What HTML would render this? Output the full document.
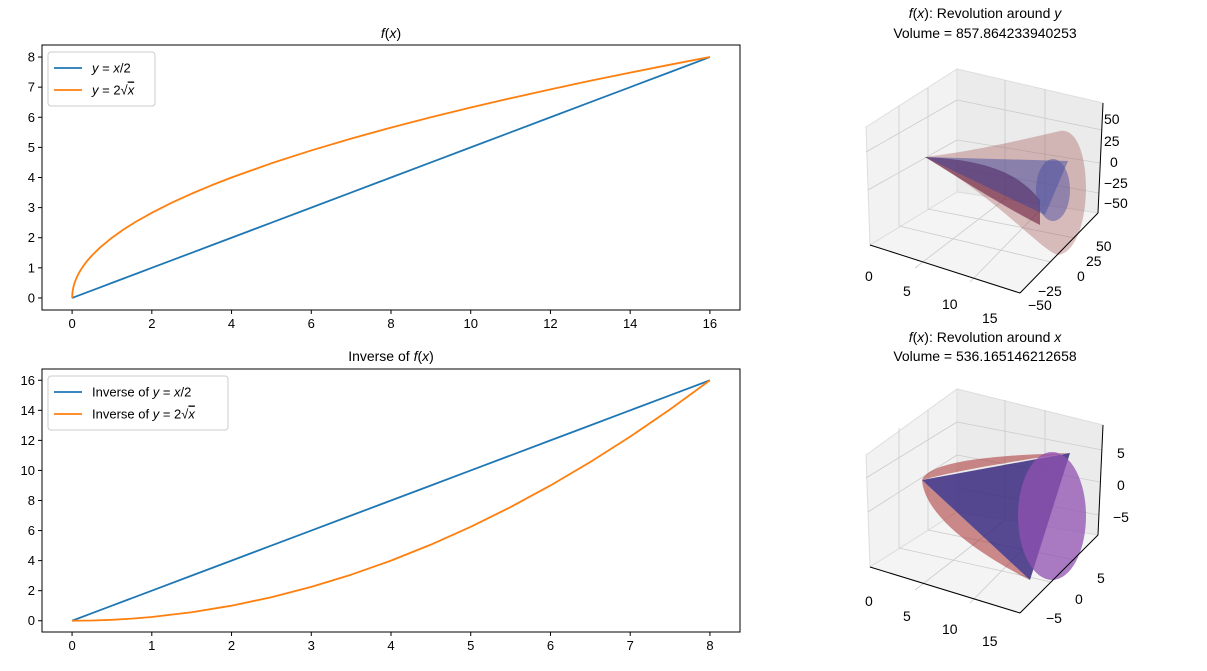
<!DOCTYPE html>
<html><head><meta charset="utf-8"><style>
body{margin:0;background:#fff}
svg{font-family:"Liberation Sans","DejaVu Sans",sans-serif}
</style></head><body>
<svg id="fig" width="1207" height="666" xmlns="http://www.w3.org/2000/svg">
<rect width="1207" height="666" fill="#fff"/>
<g id="ax1"></g>
<g id="ax2"></g>

<g font-size="14">
<text x="985" y="18" text-anchor="middle"><tspan font-style="italic">f</tspan>(<tspan font-style="italic">x</tspan>): Revolution around <tspan font-style="italic">y</tspan></text>
<text x="985" y="38" text-anchor="middle">Volume = 857.864233940253</text>
<polygon points="866,127 957,69 957,192 870,245" fill="#f2f2f2" stroke="#ddd"/>
<polygon points="957,69 1103,103 1098,213 957,192" fill="#ebebeb" stroke="#ddd"/>
<polygon points="870,245 957,192 1098,213 1020,293" fill="#f4f4f4" stroke="#ddd"/>
<g stroke="#ccc" stroke-width="0.8" fill="none">
<line x1="899" y1="106" x2="899" y2="226"/><line x1="928" y1="88" x2="928" y2="209"/><line x1="1005" y1="80" x2="1005" y2="199"/><line x1="1045" y1="89" x2="1045" y2="205"/>
<line x1="866" y1="152" x2="957" y2="100"/><line x1="868" y1="190" x2="957" y2="140"/><line x1="957" y1="100" x2="1102" y2="130"/><line x1="957" y1="140" x2="1100" y2="163"/><line x1="957" y1="168" x2="1099" y2="193"/>
<line x1="899" y1="226" x2="1051" y2="262"/><line x1="928" y1="209" x2="1075" y2="238"/><line x1="915" y1="268" x2="1005" y2="199"/><line x1="970" y1="282" x2="1045" y2="205"/>
</g>
<path d="M925,157 C980,150 1020,140 1060,131 C1095,125 1095,250 1058,255 C1040,250 1000,200 925,157Z" fill="#a05050" fill-opacity="0.35"/>
<path d="M925,157 C990,160 1020,175 1040,200 L1040,225 C1010,210 970,185 925,157Z" fill="#6a1b3a" fill-opacity="0.6"/>
<polygon points="925,157 1068,161 1045,215" fill="#3040a0" fill-opacity="0.45"/>
<ellipse cx="1053" cy="190" rx="17" ry="31" fill="#5050a0" fill-opacity="0.5"/>
<g stroke="#000" stroke-width="1"><line x1="870" y1="245" x2="1020" y2="293"/><line x1="1020" y1="293" x2="1098" y2="213"/><line x1="1098" y1="213" x2="1103" y2="103"/></g>
<g><text x="865" y="281">0</text><text x="903" y="296">5</text><text x="942" y="309">10</text><text x="982" y="323">15</text>
<text x="1096" y="251">50</text><text x="1086" y="266">25</text><text x="1077" y="281">0</text><text x="1038" y="296">−25</text><text x="1028" y="310">−50</text>
<text x="1104" y="124">50</text><text x="1104" y="146">25</text><text x="1110" y="167">0</text><text x="1104" y="188">−25</text><text x="1104" y="208">−50</text></g>
</g>

<g font-size="14">
<text x="985" y="342" text-anchor="middle"><tspan font-style="italic">f</tspan>(<tspan font-style="italic">x</tspan>): Revolution around <tspan font-style="italic">x</tspan></text>
<text x="985" y="361" text-anchor="middle">Volume = 536.165146212658</text>
<polygon points="866,455 957,389 957,512 870,567" fill="#f2f2f2" stroke="#ddd"/>
<polygon points="957,389 1103,425 1098,535 957,512" fill="#ebebeb" stroke="#ddd"/>
<polygon points="870,567 957,512 1098,535 1020,613" fill="#f4f4f4" stroke="#ddd"/>
<g stroke="#ccc" stroke-width="0.8" fill="none">
<line x1="899" y1="428" x2="899" y2="548"/><line x1="928" y1="410" x2="928" y2="530"/><line x1="1005" y1="400" x2="1005" y2="520"/><line x1="1045" y1="410" x2="1045" y2="527"/>
<line x1="866" y1="478" x2="957" y2="422"/><line x1="868" y1="512" x2="957" y2="455"/><line x1="957" y1="422" x2="1102" y2="450"/><line x1="957" y1="455" x2="1100" y2="482"/><line x1="957" y1="488" x2="1099" y2="515"/>
<line x1="899" y1="548" x2="1051" y2="582"/><line x1="928" y1="530" x2="1075" y2="560"/><line x1="915" y1="590" x2="1005" y2="520"/><line x1="970" y1="603" x2="1045" y2="527"/>
</g>
<path d="M922,480 C930,460 1000,455 1070,453 C1020,460 960,470 922,480 C925,520 990,560 1030,580Z" fill="#a83030" fill-opacity="0.55"/>
<polygon points="922,480 1070,453 1030,580" fill="#3a2a80" fill-opacity="0.85"/>
<ellipse cx="1052" cy="516" rx="34" ry="64" fill="#9050b0" fill-opacity="0.75"/>
<g stroke="#000" stroke-width="1"><line x1="870" y1="567" x2="1020" y2="613"/><line x1="1020" y1="613" x2="1098" y2="535"/><line x1="1098" y1="535" x2="1103" y2="425"/></g>
<g><text x="865" y="606">0</text><text x="903" y="621">5</text><text x="942" y="634">10</text><text x="982" y="646">15</text>
<text x="1097" y="583">5</text><text x="1075" y="604">0</text><text x="1046" y="623">−5</text>
<text x="1117" y="458">5</text><text x="1117" y="490">0</text><text x="1113" y="522">−5</text></g>
</g>
</svg>
<script>
const topX=[0,0.01,0.03,0.06,0.1,0.15,0.2,0.3,0.4,0.5,0.7,1,1.3,1.6,2,2.5,3,3.5,4,5,6,7,8,9,10,11,12,13,14,15,16];
const topLine=[0,0.005,0.015,0.03,0.05,0.075,0.1,0.15,0.2,0.25,0.35,0.5,0.65,0.8,1,1.25,1.5,1.75,2,2.5,3,3.5,4,4.5,5,5.5,6,6.5,7,7.5,8];
const topSqrt=[0,0.2,0.346,0.49,0.632,0.775,0.894,1.095,1.265,1.414,1.673,2,2.28,2.53,2.828,3.162,3.464,3.742,4,4.472,4.899,5.292,5.657,6,6.325,6.633,6.928,7.211,7.483,7.746,8];
const topXTicks=[0,2,4,6,8,10,12,14,16];
const topYTicks=[0,1,2,3,4,5,6,7,8];
const botX=[0,0.25,0.5,0.75,1,1.5,2,2.5,3,3.5,4,4.5,5,5.5,6,6.5,7,7.5,8];
const botLine=[0,0.5,1,1.5,2,3,4,5,6,7,8,9,10,11,12,13,14,15,16];
const botSq=[0,0.0156,0.0625,0.1406,0.25,0.5625,1,1.5625,2.25,3.0625,4,5.0625,6.25,7.5625,9,10.5625,12.25,14.0625,16];
const botXTicks=[0,1,2,3,4,5,6,7,8];
const botYTicks=[0,2,4,6,8,10,12,14,16];
const NS="http://www.w3.org/2000/svg";
function mk(p,t,a){const e=document.createElementNS(NS,t);for(const k in a)e.setAttribute(k,a[k]);p.appendChild(e);return e;}
function plot(g,box,xmin,xmax,ymin,ymax,xt,yt,xs,series,leg,lbox){
  const sx=v=>box.x+(v-xmin)/(xmax-xmin)*box.w, sy=v=>box.y+box.h-(v-ymin)/(ymax-ymin)*box.h;
  const fr=mk(g,'rect',{x:box.x,y:box.y,width:box.w,height:box.h,fill:'none',stroke:'#000','stroke-width':1});
  
  
  xt.forEach(t=>{const x=sx(t);mk(g,'line',{x1:x,x2:x,y1:box.y+box.h,y2:box.y+box.h+4,stroke:'#000'});
    const tx=mk(g,'text',{x:x,y:box.y+box.h+18,'text-anchor':'middle','font-size':13});tx.textContent=t;
    
    });
  yt.forEach(t=>{const y=sy(t);mk(g,'line',{x1:box.x-4,x2:box.x,y1:y,y2:y,stroke:'#000'});
    const tx=mk(g,'text',{x:box.x-7,y:y+4.5,'text-anchor':'end','font-size':13});tx.textContent=t;
    
    });
  series.forEach((s,i)=>{const p=mk(g,'polyline',{points:xs.map((x,j)=>sx(x)+','+sy(s.v[j])).join(' '),fill:'none',stroke:s.c,'stroke-width':1.8,'stroke-linejoin':'round'});
    
    });
  const lg=mk(g,'g',{});
  
  
  mk(lg,'rect',{x:lbox.x,y:lbox.y,width:lbox.w,height:54,rx:3,fill:'#fff',stroke:'#ccc'});
  series.forEach((s,i)=>{const y=lbox.y+16+i*22;mk(lg,'line',{x1:lbox.x+6,x2:lbox.x+34,y1:y,y2:y,stroke:s.c,'stroke-width':1.8});
    const t=mk(lg,'text',{x:lbox.x+44,y:y+4.5,'font-size':13});t.innerHTML=leg[i];});
}
const g1=document.getElementById('ax1');
plot(g1,{x:42,y:45,w:698,h:265},-0.755,16.755,-0.4,8.4,topXTicks,topYTicks,topX,
 [{v:topLine,c:'#1f77b4',n:'line-x-over-2'},{v:topSqrt,c:'#ff7f0e',n:'line-2-sqrt-x'}],
 ['<tspan font-style="italic">y</tspan> = <tspan font-style="italic">x</tspan>/2','<tspan font-style="italic">y</tspan> = 2√<tspan font-style="italic" text-decoration="overline">x</tspan>'],{x:48,y:52,w:107});
const t1=mk(g1,'text',{x:391,y:38,'text-anchor':'middle','font-size':14});t1.innerHTML='<tspan font-style="italic">f</tspan>(<tspan font-style="italic">x</tspan>)';


const g2=document.getElementById('ax2');
plot(g2,{x:42,y:369,w:698,h:263},-0.377,8.377,-0.75,16.75,botXTicks,botYTicks,botX,
 [{v:botLine,c:'#1f77b4',n:'inverse-line'},{v:botSq,c:'#ff7f0e',n:'inverse-sqrt'}],
 ['Inverse of <tspan font-style="italic">y</tspan> = <tspan font-style="italic">x</tspan>/2','Inverse of <tspan font-style="italic">y</tspan> = 2√<tspan font-style="italic" text-decoration="overline">x</tspan>'],{x:48,y:376,w:180});
const t2=mk(g2,'text',{x:391,y:361,'text-anchor':'middle','font-size':14});t2.innerHTML='Inverse of <tspan font-style="italic">f</tspan>(<tspan font-style="italic">x</tspan>)';


</script>
</body></html>
